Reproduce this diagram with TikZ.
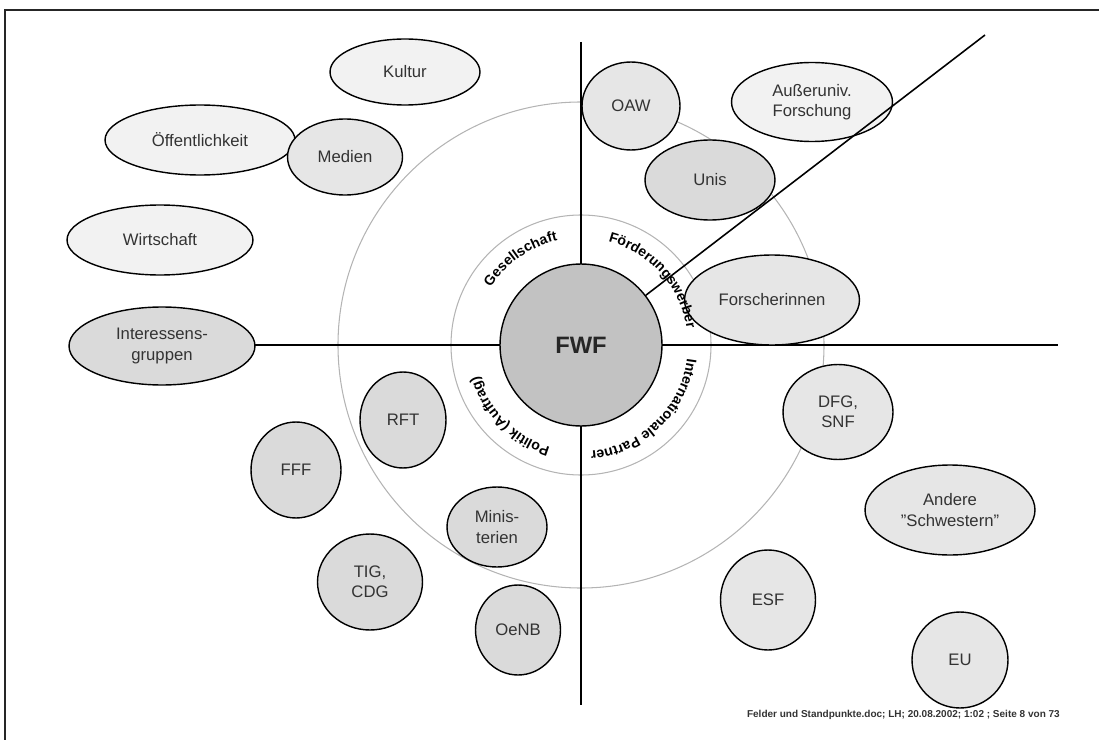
\documentclass[tikz,border=0pt]{standalone}
\usepackage{fontspec}
\setmainfont{Liberation Sans}
\usepackage{tikz}
\usetikzlibrary{shapes,decorations.text,calc}
\definecolor{paleFill}{HTML}{F2F2F2}
\definecolor{midFill}{HTML}{E6E6E6}
\definecolor{darkFill}{HTML}{DADADA}
\definecolor{hubFill}{HTML}{C2C2C2}
\definecolor{ringGray}{HTML}{B4B4B4}
\newcommand{\curvefont}{\fontsize{8}{8}\selectfont\bfseries}
\tikzstyle{bubble}=[ellipse, draw=black, line width=0.8pt, inner sep=0pt,
text centered, align=center, text=black!80, font=\fontsize{9.5}{11.5}\selectfont]
\tikzstyle{pale}=[bubble, fill=paleFill]
\tikzstyle{mid}=[bubble, fill=midFill]
\tikzstyle{dark}=[bubble, fill=darkFill]
\tikzstyle{ring}=[draw=ringGray, line width=0.6pt]
\tikzstyle{axis}=[draw=black, line width=0.9pt]
\tikzstyle{arclabel}=[decorate, decoration={text along path, text align=center}]

\begin{document}
\begin{tikzpicture}[x=0.02cm, y=0.02cm]
            \useasboundingbox (0,0) rectangle (1099,-740);
            \clip (0,0) rectangle (1099,-740);
            \draw[line width=1.2pt, black!85] (5,-10) rectangle (1120,-760);

            % rings and axes
            \coordinate (hub) at (581,-345);
            \draw[ring] (hub) circle (130);
            \draw[ring] (hub) circle (243);
            \coordinate (axL) at (255,-345);
            \coordinate (axR) at (1058,-345);
            \coordinate (axT) at (581,-42);
            \coordinate (axB) at (581,-705);
            \coordinate (diagEnd) at (985,-35);
            \draw[axis] (axL) -- (axR);
            \draw[axis] (axT) -- (axB);

            % Gesellschaft
            \node (kultur)[pale, minimum width=3cm, minimum height=1.32cm] at (405,-72) {Kultur};
            \node (oeff)[pale, minimum width=3.8cm, minimum height=1.4cm] at (200,-140) {Öffentlichkeit};
            \node (medien)[mid, minimum width=2.3cm, minimum height=1.52cm] at (345,-157) {Medien};
            \node (wirt)[pale, minimum width=3.72cm, minimum height=1.4cm] at (160,-240) {Wirtschaft};
            \node (intg)[dark, minimum width=3.72cm, minimum height=1.56cm] at (162,-346) {Interessens-\\gruppen};

            % Forschung
            \node (oaw)[mid, minimum width=1.96cm, minimum height=1.76cm] at (631,-106) {OAW};
            \node (ausser)[pale, minimum width=3.22cm, minimum height=1.58cm] at (812,-102) {Außeruniv.\\Forschung};
            \node (unis)[dark, minimum width=2.6cm, minimum height=1.6cm] at (710,-180) {Unis};
            \node (forsch)[mid, minimum width=3.5cm, minimum height=1.8cm] at (772,-300) {Forscherinnen};

            % international
            \node (dfg)[mid, minimum width=2.2cm, minimum height=1.9cm] at (838,-412) {DFG,\\SNF};
            \node (andere)[mid, minimum width=3.4cm, minimum height=1.8cm] at (950,-510) {Andere\\"Schwestern"};
            \node (esf)[mid, minimum width=1.9cm, minimum height=2cm] at (768,-600) {ESF};
            \node (eu)[mid, minimum width=1.92cm, minimum height=1.92cm] at (960,-660) {EU};

            % Politik
            \node (rft)[dark, minimum width=1.72cm, minimum height=1.92cm] at (403,-420) {RFT};
            \node (fff)[dark, minimum width=1.8cm, minimum height=1.92cm] at (296,-470) {FFF};
            \node (minis)[dark, minimum width=2cm, minimum height=1.6cm] at (497,-527) {Minis-\\terien};
            \node (tig)[dark, minimum width=2.1cm, minimum height=1.92cm] at (370,-582) {TIG,\\CDG};
            \node (oenb)[dark, minimum width=1.7cm, minimum height=1.8cm] at (518,-630) {OeNB};

            % centre
            \node (fwf)[bubble, circle, fill=hubFill, minimum size=3.24cm, text=black!85,
                font=\fontsize{13.5}{14}\selectfont\bfseries] at (hub) {FWF};
            \path[arclabel, decoration={text={|\curvefont|Gesellschaft}}]
                ($(hub)+(170:107)$) arc[start angle=170, end angle=80, radius=107];
            \path[arclabel, decoration={text={|\curvefont|Förderungswerber}}]
                ($(hub)+(90:107)$) arc[start angle=90, end angle=-6, radius=107];
            \path[arclabel, decoration={text={|\curvefont|Politik (Auftrag)}}]
                ($(hub)+(272:107)$) arc[start angle=272, end angle=178, radius=107];
            \path[arclabel, decoration={text={|\curvefont|Internationale Partner}}]
                ($(hub)+(362:107)$) arc[start angle=362, end angle=266, radius=107];
            \draw[axis] (fwf) -- (diagEnd);

            \node (footer)[anchor=east, font=\fontsize{5.7}{6}\selectfont\bfseries, text=black!80]
                at (1066,-715) {Felder und Standpunkte.doc; LH; 20.08.2002; 1:02 ; Seite 8 von 73};
        \end{tikzpicture}
\end{document}
